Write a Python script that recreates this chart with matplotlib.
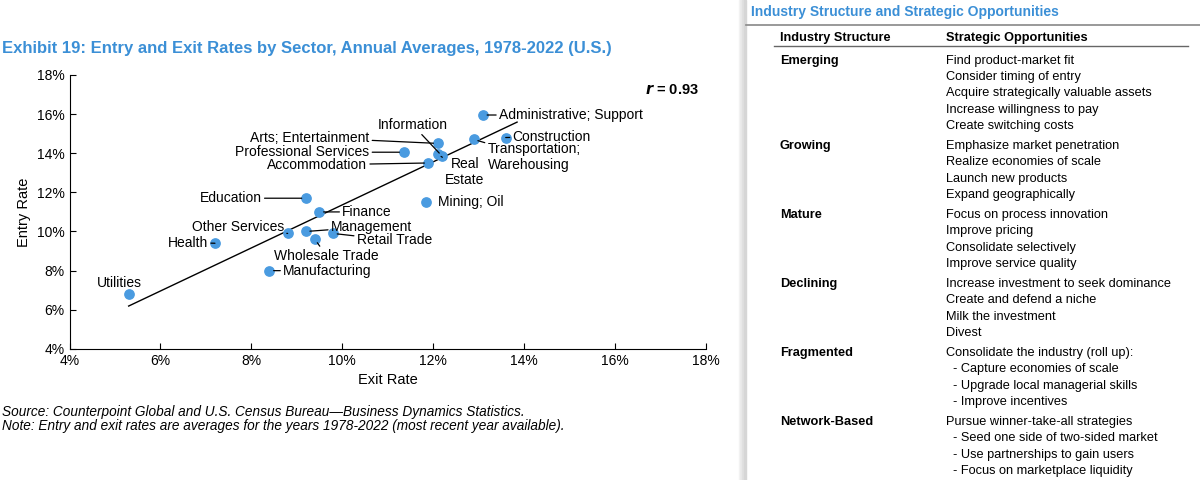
import numpy as np
import matplotlib.pyplot as plt

plt.rcParams['font.family'] = ['Liberation Sans', 'DejaVu Sans']

BLUE = '#3b8fd6'
DOT = '#4a9be0'

sectors = ['Utilities', 'Health', 'Manufacturing', 'Other Services', 'Education', 'Management',
           'Wholesale Trade', 'Finance', 'Retail Trade', 'Professional Services', 'Mining; Oil',
           'Accommodation', 'Arts; Entertainment', 'Information', 'Real\nEstate',
           'Transportation;\nWarehousing', 'Administrative; Support', 'Construction']
exit_rate = [5.3, 7.2, 8.4, 8.8, 9.2, 9.2, 9.4, 9.5, 9.8, 11.35, 11.85, 11.9, 12.1, 12.2, 12.1,
             12.9, 13.1, 13.6]
entry_rate = [6.8, 9.4, 8.0, 9.9, 11.7, 10.0, 9.6, 11.0, 9.9, 14.05, 11.5, 13.5, 14.5, 13.85, 13.95,
              14.7, 15.95, 14.8]
# label anchor (x, y, ha, draw leader)
label_pos = [(5.1, 7.35, 'center', False), (7.05, 9.43, 'right', True), (8.7, 8.0, 'left', True),
             (8.72, 10.25, 'right', True), (8.23, 11.7, 'right', True), (9.75, 10.25, 'left', True),
             (9.66, 8.75, 'center', True), (10.0, 11.0, 'left', True), (10.32, 9.55, 'left', True),
             (10.6, 14.05, 'right', True), (12.1, 11.5, 'left', False), (10.55, 13.4, 'right', True),
             (10.6, 14.8, 'right', True), (11.55, 15.45, 'center', True), (12.7, 13.05, 'center', True),
             (13.2, 13.8, 'left', True), (13.45, 15.95, 'left', True), (13.75, 14.85, 'left', True)]

fig = plt.figure(figsize=(12, 4.8), dpi=100)
ax = fig.add_axes([0.058, 0.273, 0.53, 0.571])
ax.scatter(exit_rate, entry_rate, s=45, color=DOT, zorder=3)

m, b = np.polyfit(exit_rate, entry_rate, 1)
xs = np.array([min(exit_rate), 13.85])
ax.plot(xs, m * xs + b, color='black', lw=1, zorder=2)

for name, x, y, (tx, ty, ha, lead) in zip(sectors, exit_rate, entry_rate, label_pos):
    if lead:
        ax.annotate(name, (x, y), xytext=(tx, ty), ha=ha, va='center', fontsize=10,
                    linespacing=1.15,
                    arrowprops=dict(arrowstyle='-', color='black', lw=0.9, shrinkA=0, shrinkB=3))
    else:
        ax.text(tx, ty, name, ha=ha, va='center', fontsize=10)

ax.set_xlim(4, 18)
ax.set_ylim(4, 18)
ax.set_xticks(range(4, 19, 2))
ax.set_yticks(range(4, 19, 2))
ax.set_xticklabels([f'{v}%' for v in range(4, 19, 2)], fontsize=10)
ax.set_yticklabels([f'{v}%' for v in range(4, 19, 2)], fontsize=10)
for s in ['top', 'right']:
    ax.spines[s].set_visible(False)
ax.tick_params(direction='in', length=4)
ax.set_xlabel('Exit Rate', fontsize=10.5)
ax.set_ylabel('Entry Rate', fontsize=10.5)
ax.text(0.99, 0.97, r'$\bfit{r}$ = 0.93', transform=ax.transAxes, ha='right', va='top',
        fontsize=10.5, fontweight='bold')

fig.text(0.002, 0.9, 'Exhibit 19: Entry and Exit Rates by Sector, Annual Averages, 1978-2022 (U.S.)',
         color=BLUE, fontsize=12, fontweight='bold', va='center')
fig.text(0.002, 0.142, 'Source: Counterpoint Global and U.S. Census Bureau\u2014Business Dynamics Statistics.',
         fontsize=9.8, style='italic', va='center')
fig.text(0.002, 0.112, 'Note: Entry and exit rates are averages for the years 1978-2022 (most recent year available).',
         fontsize=9.8, style='italic', va='center')

# right-hand table
structures = ['Emerging', 'Growing', 'Mature', 'Declining', 'Fragmented', 'Network-Based']
opportunities = [
    ['Find product-market fit', 'Consider timing of entry', 'Acquire strategically valuable assets',
     'Increase willingness to pay', 'Create switching costs'],
    ['Emphasize market penetration', 'Realize economies of scale', 'Launch new products',
     'Expand geographically'],
    ['Focus on process innovation', 'Improve pricing', 'Consolidate selectively',
     'Improve service quality'],
    ['Increase investment to seek dominance', 'Create and defend a niche', 'Milk the investment',
     'Divest'],
    ['Consolidate the industry (roll up):', '  - Capture economies of scale',
     '  - Upgrade local managerial skills', '  - Improve incentives'],
    ['Pursue winner-take-all strategies', '  - Seed one side of two-sided market',
     '  - Use partnerships to gain users', '  - Focus on marketplace liquidity'],
]

for i, c in enumerate(['#f4f4f4', '#ebebeb', '#e0e0e0', '#d6d6d6']):
    fig.patches.append(plt.Rectangle((0.6155 + i * 0.0015, 0.0), 0.0015, 1.0,
                                     transform=fig.transFigure, color=c, zorder=0))
fig.text(0.626, 0.975, 'Industry Structure and Strategic Opportunities', color=BLUE,
         fontsize=10, fontweight='bold', va='center')
fig.add_artist(plt.Line2D([0.622, 1.0], [0.948, 0.948], color='#888888', lw=1.2))
c1, c2 = 0.650, 0.788
fig.text(c1, 0.921, 'Industry Structure', fontsize=9.2, fontweight='bold', va='center')
fig.text(c2, 0.921, 'Strategic Opportunities', fontsize=9.2, fontweight='bold', va='center')
fig.add_artist(plt.Line2D([0.645, 0.99], [0.905, 0.905], color='#666666', lw=1))

step = 16.2 / 480
y = 1 - 61 / 480
for st, ops in zip(structures, opportunities):
    fig.text(c1, y, st, fontsize=9.2, fontweight='bold', va='center')
    for i, op in enumerate(ops):
        fig.text(c2, y - i * step, op, fontsize=9.2, va='center')
    y -= len(ops) * step + 4.2 / 480

fig.savefig('out.png')
